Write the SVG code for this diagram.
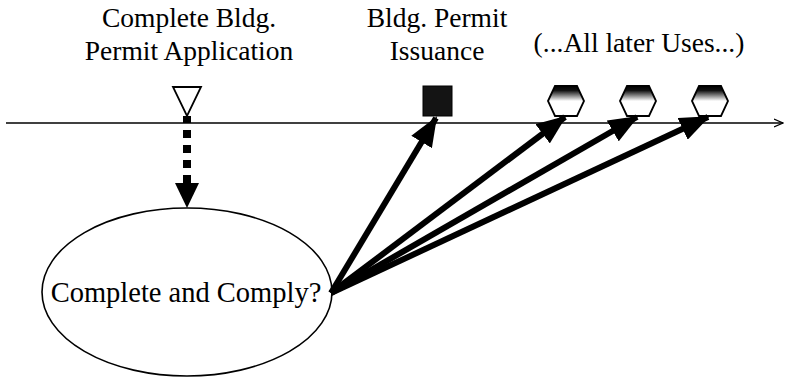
<svg xmlns="http://www.w3.org/2000/svg" width="788" height="379" viewBox="0 0 788 379">
  <style>
    .lbl { font-family: 'Liberation Serif', 'Times New Roman', 'DejaVu Serif', serif; font-size: 27.5px; fill: #000; text-anchor: middle; }
    .big { font-size: 28.5px; }
    .outline { stroke: #000; stroke-width: 1.8; }
    .use { stroke: #000; stroke-width: 6; fill: none; marker-end: url(#head); }
  </style>
  <defs>
    <marker id="head" viewBox="0 0 30 24" refX="28" refY="12" markerWidth="30" markerHeight="24" markerUnits="userSpaceOnUse" orient="auto">
      <path d="M0,0 L30,12 L0,24 Z" fill="#000"/>
    </marker>
    <marker id="open" viewBox="0 0 10 10" refX="9" refY="5" markerWidth="10" markerHeight="10" markerUnits="userSpaceOnUse" orient="auto">
      <path d="M0,1 L9,5 L0,9" fill="none" stroke="#000" stroke-width="1.3"/>
    </marker>
    <linearGradient id="hexfill" x1="0" y1="0" x2="0" y2="1">
      <stop offset="0" stop-color="#000"/>
      <stop offset="0.15" stop-color="#111"/>
      <stop offset="0.5" stop-color="#fff"/>
      <stop offset="1" stop-color="#fff"/>
    </linearGradient>
  </defs>

  <!-- time axis -->
  <line x1="6" y1="123" x2="783" y2="123" stroke="#000" stroke-width="1.6" marker-end="url(#open)"/>

  <!-- event labels -->
  <g id="label-application">
    <text class="lbl" x="189" y="27">Complete Bldg.</text>
    <text class="lbl" x="189" y="60">Permit Application</text>
  </g>
  <g id="label-issuance">
    <text class="lbl" x="437" y="27">Bldg. Permit</text>
    <text class="lbl" x="437" y="60">Issuance</text>
  </g>
  <g id="label-uses">
    <text class="lbl" x="639" y="52">(...All later Uses...)</text>
  </g>

  <!-- application event: open triangle on the axis -->
  <g id="application">
    <path class="outline" fill="#fff" d="M173,87 L201,87 L187,116 Z"/>
    <rect x="183" y="116" width="8" height="7" fill="#000"/>
  </g>

  <!-- issuance event: filled square -->
  <g id="issuance">
    <rect x="423" y="86" width="29" height="30" fill="#141414" stroke="#000" stroke-width="1"/>
  </g>

  <!-- later uses: shaded hexagons -->
  <g id="use-1">
    <path class="outline" fill="url(#hexfill)" d="M548,101 L555,86 L577,86 L584,101 L577,116 L555,116 Z"/>
  </g>
  <g id="use-2">
    <path class="outline" fill="url(#hexfill)" d="M620,101 L627,86 L649,86 L656,101 L649,116 L627,116 Z"/>
  </g>
  <g id="use-3">
    <path class="outline" fill="url(#hexfill)" d="M692,101 L699,86 L721,86 L728,101 L721,116 L699,116 Z"/>
  </g>

  <!-- review decision -->
  <g id="review">
    <ellipse cx="187" cy="292" rx="145" ry="84" fill="#fff" stroke="#000" stroke-width="1.6"/>
    <text class="lbl big" x="186" y="302">Complete and Comply?</text>
  </g>

  <!-- connectors -->
  <g id="connectors">
    <line x1="187" y1="130" x2="187" y2="184" stroke="#000" stroke-width="8" stroke-dasharray="8,7"/>
    <path d="M175,183 L199,183 L187,208 Z" fill="#000"/>
    <line class="use" x1="331" y1="293" x2="436" y2="118"/>
    <line class="use" x1="331" y1="293" x2="565" y2="117"/>
    <line class="use" x1="331" y1="293" x2="637" y2="117"/>
    <line class="use" x1="331" y1="293" x2="708" y2="117"/>
  </g>
</svg>
